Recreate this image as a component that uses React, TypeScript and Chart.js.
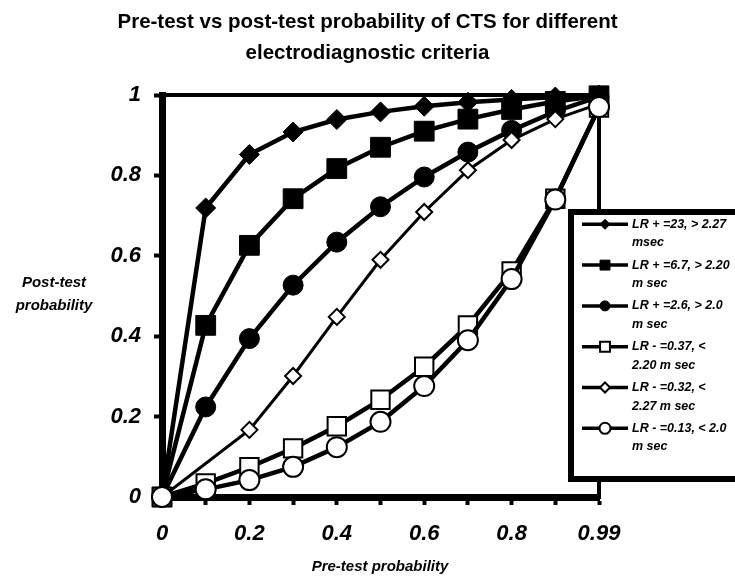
import React, { useEffect, useRef } from 'react';
import { Chart, registerables } from 'chart.js';

Chart.register(...registerables);

// ---- data ----
const preTest = ['0', '0.1', '0.2', '0.3', '0.4', '0.5', '0.6', '0.7', '0.8', '0.9', '0.99'];
const xTickLabels = ['0', '', '0.2', '', '0.4', '', '0.6', '', '0.8', '', '0.99'];
const yTickLabels = ['0', '0.2', '0.4', '0.6', '0.8', '1'];

const lrPos23 = [0, 0.719, 0.852, 0.908, 0.939, 0.958, 0.972, 0.982, 0.989, 0.995, 1.0];
const lrPos67 = [0, 0.427, 0.626, 0.742, 0.817, 0.87, 0.91, 0.94, 0.964, 0.984, 0.998];
const lrPos26 = [0, 0.224, 0.394, 0.527, 0.634, 0.722, 0.796, 0.858, 0.912, 0.959, 0.996];
const lrNeg037 = [0, 0.034, 0.074, 0.121, 0.176, 0.242, 0.324, 0.427, 0.561, 0.742, 0.969];
const lrNeg032 = [0, null, 0.167, 0.301, 0.448, 0.59, 0.709, 0.813, 0.888, 0.94, 0.978];
const lrNeg013 = [0, 0.019, 0.042, 0.075, 0.124, 0.187, 0.276, 0.39, 0.542, 0.74, 0.97];

const seriesLabels = [
  ['LR + =23, > 2.27', 'msec'],
  ['LR + =6.7, > 2.20', 'm sec'],
  ['LR + =2.6, > 2.0', 'm sec'],
  ['LR - =0.37, <', '2.20 m sec'],
  ['LR - =0.32, <', '2.27 m sec'],
  ['LR - =0.13, < 2.0', 'm sec'],
];

const chartTitle = ['Pre-test vs post-test probability of CTS for different', 'electrodiagnostic criteria'];
const yTitle = ['Post-test', 'probability'];
const xTitle = 'Pre-test probability';

const FONT = '"Liberation Sans", Arial, Helvetica, sans-serif';

type Style = { shape: 'diamond' | 'square' | 'circle'; fill: string; radius: number; lw: number; border: number; legendR: number };
const styles: Style[] = [
  { shape: 'diamond', fill: '#000', radius: 10, lw: 4.5, border: 1, legendR: 5 },
  { shape: 'square', fill: '#000', radius: 14, lw: 4.5, border: 1, legendR: 7 },
  { shape: 'circle', fill: '#000', radius: 10, lw: 4.5, border: 1, legendR: 5 },
  { shape: 'square', fill: '#fff', radius: 13, lw: 4.5, border: 2, legendR: 7 },
  { shape: 'diamond', fill: '#fff', radius: 8, lw: 3, border: 2, legendR: 5 },
  { shape: 'circle', fill: '#fff', radius: 10, lw: 4.5, border: 2, legendR: 5.5 },
];
const seriesData = [lrPos23, lrPos67, lrPos26, lrNeg037, lrNeg032, lrNeg013];

function drawMarker(ctx: CanvasRenderingContext2D, s: Style, x: number, y: number, r: number) {
  ctx.beginPath();
  if (s.shape === 'circle') {
    ctx.arc(x, y, r, 0, Math.PI * 2);
  } else if (s.shape === 'square') {
    const h = r * Math.SQRT1_2;
    ctx.rect(x - h, y - h, 2 * h, 2 * h);
  } else {
    ctx.moveTo(x - r, y);
    ctx.lineTo(x, y - r);
    ctx.lineTo(x + r, y);
    ctx.lineTo(x, y + r);
    ctx.closePath();
  }
  ctx.fillStyle = s.fill;
  ctx.fill();
  ctx.lineWidth = s.border;
  ctx.strokeStyle = '#000';
  ctx.stroke();
}

const overlay = {
  id: 'overlay',
  beforeDatasetsDraw(chart: any) {
    const { ctx, chartArea: a } = chart;
    ctx.save();
    ctx.strokeStyle = '#000';
    ctx.lineWidth = 4;
    ctx.lineCap = 'square';
    ctx.beginPath();
    ctx.moveTo(a.left, a.top);
    ctx.lineTo(a.right, a.top);
    ctx.lineTo(a.right, a.bottom);
    ctx.stroke();
    ctx.restore();
  },
  afterDraw(chart: any) {
    const { ctx } = chart;
    ctx.save();
    ctx.fillStyle = '#000';
    ctx.textAlign = 'center';
    ctx.textBaseline = 'middle';
    // title
    ctx.font = `bold 20.5px ${FONT}`;
    ctx.fillText(chartTitle[0], 367.5, 22);
    ctx.fillText(chartTitle[1], 367.5, 53);
    // axis titles
    ctx.font = `italic bold 15px ${FONT}`;
    ctx.fillText(yTitle[0], 54, 283);
    ctx.fillText(yTitle[1], 54, 306);
    ctx.fillText(xTitle, 380, 567);

    // legend box
    ctx.fillStyle = '#fff';
    ctx.fillRect(571, 212, 180, 267);
    ctx.strokeStyle = '#000';
    ctx.lineWidth = 6;
    ctx.strokeRect(571, 212, 180, 267);

    ctx.textAlign = 'left';
    ctx.font = `italic bold 12.5px ${FONT}`;
    for (let i = 0; i < seriesLabels.length; i++) {
      const y0 = 224.3 + i * 40.8;
      const s = styles[i];
      ctx.beginPath();
      ctx.moveTo(582, y0);
      ctx.lineTo(628, y0);
      ctx.lineWidth = 3.5;
      ctx.strokeStyle = '#000';
      ctx.stroke();
      drawMarker(ctx, s, 605, y0, s.legendR);
      ctx.fillStyle = '#000';
      seriesLabels[i].forEach((line, j) => ctx.fillText(line, 632, y0 + j * 18.6));
    }
    ctx.restore();
  },
};

export default function App() {
  const ref = useRef<HTMLCanvasElement>(null);
  useEffect(() => {
    if (!ref.current) return;
    const tickFont = { family: FONT, size: 22, style: 'italic' as const, weight: 'bold' as const };
    const chart = new Chart(ref.current, {
      type: 'line',
      data: {
        labels: preTest,
        datasets: seriesData.map((d, i) => {
          const s = styles[i];
          const ps = s.shape === 'diamond' ? 'rectRot' : s.shape === 'square' ? 'rect' : 'circle';
          return {
            label: seriesLabels[i].join(' '),
            data: d,
            borderColor: '#000',
            borderWidth: s.lw,
            backgroundColor: s.fill,
            pointStyle: ps,
            pointRadius: s.radius,
            pointBackgroundColor: s.fill,
            pointBorderColor: '#000',
            pointBorderWidth: s.border,
            tension: 0,
            spanGaps: true,
            clip: false as any,
            order: seriesData.length - 1 - i,
          };
        }),
      },
      options: {
        animation: false,
        responsive: true,
        maintainAspectRatio: false,
        events: [],
        layout: { padding: { left: 0, top: 95, right: 136, bottom: 0 } },
        plugins: { legend: { display: false }, title: { display: false }, tooltip: { enabled: false } },
        scales: {
          x: {
            type: 'category',
            offset: false,
            grid: { display: true, drawOnChartArea: false, drawTicks: true, tickLength: 8, tickWidth: 4, tickColor: '#000' },
            border: { display: true, width: 7, color: '#000' },
            ticks: {
              autoSkip: false,
              maxRotation: 0,
              minRotation: 0,
              padding: 16,
              color: '#000',
              font: tickFont,
              callback: (_v: any, idx: number) => xTickLabels[idx] ?? '',
            },
            afterFit: (scale: any) => { scale.height = 80; },
          },
          y: {
            min: 0,
            max: 1,
            grid: { display: true, drawOnChartArea: false, drawTicks: true, tickLength: 8, tickWidth: 4, tickColor: '#000' },
            border: { display: true, width: 7, color: '#000' },
            ticks: {
              stepSize: 0.2,
              padding: 13,
              color: '#000',
              font: tickFont,
              callback: (v: any) => yTickLabels[Math.round(Number(v) / 0.2)] ?? '',
            },
            afterFit: (scale: any) => { scale.width = 162; },
          },
        },
      },
      plugins: [overlay],
    });
    return () => chart.destroy();
  }, []);
  return (
    <div style={{ position: 'fixed', left: 0, top: 0, width: 735, height: 577, background: '#fff' }}>
      <canvas ref={ref} />
    </div>
  );
}
